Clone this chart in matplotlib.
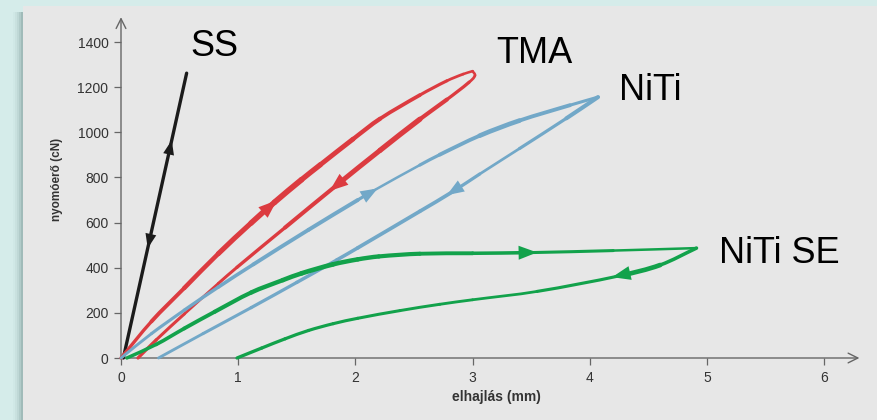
"""Load-deflection hysteresis loops of orthodontic wires (SS, TMA, NiTi, NiTi SE)."""

import numpy as np
import matplotlib

matplotlib.use("Agg")
import matplotlib.pyplot as plt
from matplotlib.collections import PathCollection
from matplotlib.patches import Rectangle
from matplotlib.path import Path

plt.rcParams["font.family"] = ["Liberation Sans", "DejaVu Sans"]

# deflection (mm) / force (cN)
ss_x = [0.02, 0.56]
ss_y = [0, 1262]

tma_load_x = [0.0, 0.26, 0.54, 0.83, 1.11, 1.31, 1.54, 1.70, 1.98, 2.21, 2.55, 2.78, 2.92, 3.0]
tma_load_y = [0, 162, 310, 462, 598, 690, 790, 856, 970, 1060, 1165, 1228, 1258, 1271]
tma_unload_x = [3.0, 3.02, 2.97, 2.78, 2.55, 2.21, 1.85, 1.40, 0.99, 0.83, 0.54, 0.30, 0.145]
tma_unload_y = [1271, 1252, 1222, 1145, 1058, 920, 770, 578, 402, 330, 195, 80, 0]

niti_load_x = [0.0, 0.26, 0.54, 0.83, 1.13, 1.6, 2.02, 2.15, 2.55, 2.72, 3.06, 3.40, 3.83, 4.07]
niti_load_y = [0, 108, 212, 314, 415, 568, 700, 740, 855, 901, 985, 1052, 1120, 1156]
niti_unload_x = [4.07, 3.8, 3.40, 3.06, 2.83, 2.55, 2.02, 1.84, 1.5, 1.11, 0.7, 0.32]
niti_unload_y = [1156, 1062, 928, 815, 737, 650, 488, 434, 335, 223, 108, 0]

se_load_x = [0.05, 0.3, 0.54, 0.8, 1.11, 1.38, 1.54, 1.81, 2.02, 2.2, 2.55, 3.0, 3.49, 4.2, 4.91]
se_load_y = [0, 60, 131, 205, 290, 345, 375, 415, 437, 450, 462, 464, 467, 476, 487]
se_unload_x = [4.91, 4.6, 4.26, 3.55, 3.0, 2.72, 2.38, 2.02, 1.81, 1.60, 1.40, 1.2, 0.99]
se_unload_y = [487, 412, 365, 295, 258, 238, 210, 176, 152, 122, 85, 44, 0]

x_ticks = [0, 1, 2, 3, 4, 5, 6]
y_ticks = [0, 200, 400, 600, 800, 1000, 1200, 1400]

labels = ["SS", "TMA", "NiTi", "NiTi SE"]
label_x = [0.59, 3.20, 4.25, 5.10]
label_y = [1338, 1307, 1143, 420]

RED = "#dc3b40"
BLUE = "#72a8c8"
GREEN = "#12a24b"
BLACK = "#1b1b1b"

# branch -> (x, y, colour, width knots along the branch, widths in pt)
branches = {
    "ss": (ss_x, ss_y, BLACK, [0, 1], [2.4, 2.4]),
    "tma_load": (tma_load_x, tma_load_y, RED, [0, 0.2, 0.5, 0.8, 1], [2.2, 3.0, 4.2, 2.8, 1.8]),
    "tma_unload": (tma_unload_x, tma_unload_y, RED, [0, 0.25, 0.55, 0.8, 1], [1.8, 4.0, 2.6, 2.0, 2.4]),
    "niti_load": (niti_load_x, niti_load_y, BLUE, [0, 0.45, 0.6, 0.82, 1], [2.0, 3.0, 1.8, 3.4, 2.0]),
    "niti_unload": (niti_unload_x, niti_unload_y, BLUE, [0, 0.2, 0.4, 1], [3.2, 1.8, 2.8, 2.0]),
    "se_load": (se_load_x, se_load_y, GREEN, [0, 0.35, 0.65, 1], [2.4, 3.4, 2.6, 1.6]),
    "se_unload": (se_unload_x, se_unload_y, GREEN, [0, 0.1, 0.3, 1], [1.8, 3.6, 1.9, 2.4]),
}

# arrowheads: branch, x of the tip, direction of travel along x, size
arrows = [
    ("ss", 0.433, 1, 11), ("ss", 0.228, -1, 11),
    ("tma_load", 1.33, 1, 14), ("tma_unload", 1.78, -1, 14),
    ("niti_load", 2.19, 1, 13), ("niti_unload", 2.78, -1, 13),
    ("se_load", 3.55, 1, 14), ("se_unload", 4.19, -1, 14),
]

XMAX, YMAX = 6.3, 1510
AX_W, AX_H = 738.4, 340.8  # axes size in px


def branch_point(xs, ys, x):
    order = np.argsort(xs)
    return x, np.interp(x, np.asarray(xs)[order], np.asarray(ys)[order])


def bezier_pieces(xs, ys):
    """One cubic piece per pair of read points, tangents taken from the neighbours."""
    scale = np.array([AX_W / XMAX, AX_H / YMAX])
    p = np.column_stack([xs, ys]).astype(float) * scale
    n = len(p)
    tang = np.empty_like(p)
    for i in range(n):
        a, b = p[max(i - 1, 0)], p[min(i + 1, n - 1)]
        v = b - a
        tang[i] = v / np.hypot(*v)
    pieces = []
    for i in range(n - 1):
        L = np.hypot(*(p[i + 1] - p[i]))
        c1 = p[i] + tang[i] * L / 3
        c2 = p[i + 1] - tang[i + 1] * L / 3
        verts = np.array([p[i], c1, c2, p[i + 1]]) / scale
        pieces.append(Path(verts, [Path.MOVETO, Path.CURVE4, Path.CURVE4, Path.CURVE4]))
    return pieces, p


fig = plt.figure(figsize=(8.78, 4.2), dpi=100)
fig.patch.set_facecolor("#d5ecea")

# grey panel with a soft shadow on its left edge
for i, a in enumerate([0.03, 0.05, 0.08, 0.12, 0.17]):
    off = (10 - 2 * i) / 878
    fig.patches.append(Rectangle((23 / 878 - off, 0), 1, (420 - 12) / 420,
                                 transform=fig.transFigure, facecolor="#4f6f6d",
                                 alpha=a, edgecolor="none", zorder=-3))
fig.patches.append(Rectangle((23 / 878, 0), 1, (420 - 6) / 420, transform=fig.transFigure,
                             facecolor="#e7e7e7", edgecolor="none", zorder=-2))

ax = fig.add_axes([121 / 878, 62 / 420, AX_W / 878, AX_H / 420])
ax.set_zorder(2)
ax.set_facecolor("none")
ax.set_xlim(0, XMAX)
ax.set_ylim(0, YMAX)
for s in ax.spines.values():
    s.set_visible(False)

ax.set_xticks(x_ticks)
ax.set_yticks(y_ticks)
ax.tick_params(direction="out", length=5, width=0.9, color="#666666",
               labelsize=10, labelcolor="#333333", pad=4)

axis_arrow = dict(arrowstyle="->,head_length=0.7,head_width=0.35", color="#666666",
                  lw=1.0, shrinkA=0, shrinkB=0)
ax.annotate("", xy=(XMAX, 0), xytext=(0, 0), arrowprops=axis_arrow, annotation_clip=False)
ax.annotate("", xy=(0, YMAX), xytext=(0, 0), arrowprops=axis_arrow, annotation_clip=False)

for name, (xs, ys, color, knots, widths) in branches.items():
    pieces, p = bezier_pieces(xs, ys)
    d = np.hypot(*np.diff(p, axis=0).T)
    pos = (np.cumsum(d) - d / 2) / d.sum()
    lw = np.interp(pos, knots, widths)
    pc = PathCollection(pieces, facecolors="none", edgecolors=color, linewidths=lw,
                        capstyle="round", joinstyle="round", transform=ax.transData,
                        clip_on=False, zorder=3)
    ax.add_collection(pc, autolim=False)

for name, tip, direction, size in arrows:
    xs, ys, color = branches[name][:3]
    step = 0.03 if name == "ss" else 0.15
    head = branch_point(xs, ys, tip)
    tail = branch_point(xs, ys, tip - direction * step)
    ax.annotate("", xy=head, xytext=tail,
                arrowprops=dict(arrowstyle="-|>,head_length=0.95,head_width=0.36",
                                color=color, lw=0, shrinkA=0, shrinkB=0,
                                mutation_scale=size),
                zorder=4)

for txt, lx, ly in zip(labels, label_x, label_y):
    ax.text(lx, ly, txt, fontsize=26, va="baseline", ha="left", color="black",
            clip_on=False)

fig.text(496 / 878, 1 - 397 / 420, "elhajlás (mm)", ha="center", va="center",
         fontsize=10, fontweight="bold", color="#333333")
fig.text(57 / 878, 1 - 179 / 420, "nyomóerő (cN)", ha="center", va="center",
         rotation=90, fontsize=8.5, fontweight="bold", color="#333333")

fig.savefig("out.png", dpi=100, facecolor=fig.get_facecolor())
